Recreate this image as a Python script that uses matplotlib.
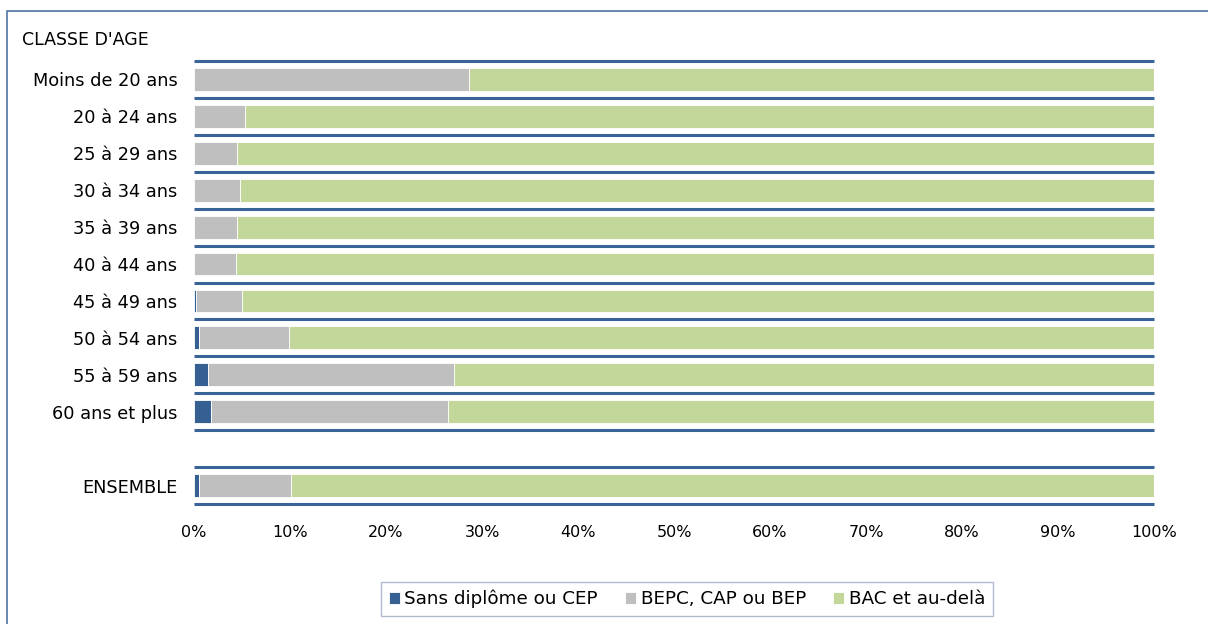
import matplotlib
matplotlib.use("Agg")
import matplotlib.pyplot as plt
from matplotlib.patches import Rectangle
from matplotlib.ticker import FuncFormatter
import numpy as np

categories = ["Moins de 20 ans", "20 à 24 ans", "25 à 29 ans", "30 à 34 ans", "35 à 39 ans",
              "40 à 44 ans", "45 à 49 ans", "50 à 54 ans", "55 à 59 ans", "60 ans et plus",
              "", "ENSEMBLE"]
sans_diplome = [0.0, 0.0, 0.0, 0.0, 0.0, 0.0, 0.25, 0.55, 1.45, 1.8, None, 0.5]
bepc_cap_bep = [28.6, 5.3, 4.5, 4.8, 4.5, 4.4, 4.75, 9.35, 25.65, 24.7, None, 9.6]
bac = [71.4, 94.7, 95.5, 95.2, 95.5, 95.6, 95.0, 90.1, 72.9, 73.5, None, 89.9]
series_names = ["Sans diplôme ou CEP", "BEPC, CAP ou BEP", "BAC et au-delà"]
colors = ["#366092", "#BFBFBF", "#C4D79B"]

W, H = 1208, 624
fig = plt.figure(figsize=(W / 100, H / 100), dpi=100)
plt.rcParams['font.family'] = ['DejaVu Sans']

# outer frame
fig.patches.append(Rectangle((7 / W, -0.05), 1.2, 1 - 11 / H + 0.05, transform=fig.transFigure,
                             fill=False, edgecolor="#4F74A3", linewidth=1.2))

ax = fig.add_axes([194 / W, 1 - 504 / H, 960 / W, 443 / H])

idx = [i for i, c in enumerate(categories) if c != ""]
y = np.array(idx, dtype=float)
s1 = np.array([sans_diplome[i] for i in idx])
s2 = np.array([bepc_cap_bep[i] for i in idx])
s3 = np.array([bac[i] for i in idx])
bh = 0.62
ax.barh(y, s1, height=bh, color=colors[0], edgecolor="white", linewidth=0.6, label=series_names[0])
ax.barh(y, s2, left=s1, height=bh, color=colors[1], edgecolor="white", linewidth=0.6, label=series_names[1])
ax.barh(y, s3, left=s1 + s2, height=bh, color=colors[2], edgecolor="white", linewidth=0.6, label=series_names[2])

n = len(categories)
for b in np.arange(n + 1) - 0.5:
    ax.axhline(b, color="#3A6399", linewidth=2.2, zorder=3, clip_on=False, solid_capstyle="butt")

ax.set_xlim(0, 100)
ax.set_ylim(n - 0.5, -0.5)
ax.set_yticks(range(n))
ax.set_yticklabels(categories, fontsize=12.8)
ax.set_xticks(np.arange(0, 101, 10))
ax.xaxis.set_major_formatter(FuncFormatter(lambda v, p: f"{int(v)}%"))
ax.tick_params(axis="x", length=0, pad=15, labelsize=11.5)
ax.tick_params(axis="y", length=0, pad=12)
for s in ax.spines.values():
    s.set_visible(False)

fig.text(22 / W, 1 - 40 / H, "CLASSE D'AGE", fontsize=12.5, va="center", ha="left")

leg = fig.legend(loc="center", bbox_to_anchor=(687 / W, 1 - 599 / H), ncol=3, fontsize=13.2,
                 frameon=True, fancybox=False, handlelength=0.6, handleheight=0.6,
                 handletextpad=0.25, columnspacing=1.5, borderpad=0.4)
leg.get_frame().set_edgecolor("#9AAAC4")
leg.get_frame().set_linewidth(1.0)

fig.savefig("out.png", dpi=100)
